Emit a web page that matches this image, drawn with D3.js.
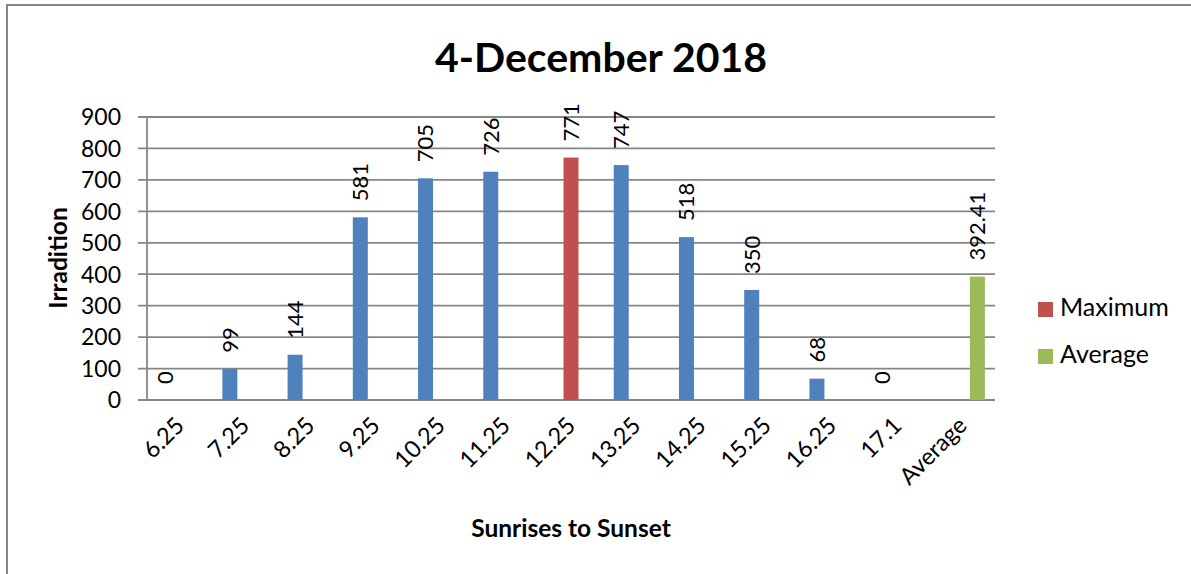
<!DOCTYPE html>
<html>
<head>
<meta charset="utf-8">
<script src="https://cdn.jsdelivr.net/npm/d3@7/dist/d3.min.js"></script>
<style>
  html, body { margin: 0; padding: 0; background: #fff; }
  svg { display: block; font-family: Lato, "Open Sans", sans-serif; }
</style>
</head>
<body>
<svg id="chart" width="1191" height="574"></svg>
<script>
// Hourly irradiation readings, sunrise to sunset
const categories = ["6.25", "7.25", "8.25", "9.25", "10.25", "11.25", "12.25", "13.25", "14.25", "15.25", "16.25", "17.1", "Average"];
const irradiation = [0, 99, 144, 581, 705, 726, null, 747, 518, 350, 68, 0, null];
const maximum = [null, null, null, null, null, null, 771, null, null, null, null, null, null];
const average = [null, null, null, null, null, null, null, null, null, null, null, null, 392.41];
const seriesNames = ["Irradiation", "Maximum", "Average"];
const seriesColors = ["#4F81BD", "#C0504D", "#9BBB59"];
const yTicks = [0, 100, 200, 300, 400, 500, 600, 700, 800, 900];
const legendItems = ["Maximum", "Average"];

const svg = d3.select("#chart");
const plot = { left: 147, right: 995, top: 117, bottom: 400 };
const grid = "#868686";

// outer frame
svg.append("rect")
  .attr("x", 7).attr("y", 5).attr("width", 1200).attr("height", 600)
  .attr("fill", "#fff").attr("stroke", grid).attr("stroke-width", 2);

const y = d3.scaleLinear().domain([0, 900]).range([plot.bottom, plot.top]);
const x0 = d3.scaleBand().domain(categories).range([plot.left, plot.right]).padding(0);
const x1 = d3.scaleBand().domain(seriesNames).range([0, x0.bandwidth()]).paddingInner(0).paddingOuter(0.675);

// gridlines
svg.append("g").selectAll("line").data(yTicks).join("line")
  .attr("x1", plot.left - 9).attr("x2", plot.right)
  .attr("y1", d => y(d)).attr("y2", d => y(d))
  .attr("stroke", grid).attr("stroke-width", 1.8);

// y axis line
svg.append("line")
  .attr("x1", plot.left).attr("x2", plot.left)
  .attr("y1", plot.top).attr("y2", plot.bottom)
  .attr("stroke", grid).attr("stroke-width", 1.8);

// y tick labels
svg.append("g").selectAll("text").data(yTicks).join("text")
  .attr("x", 121).attr("y", d => y(d))
  .attr("dy", "0.36em")
  .attr("text-anchor", "end")
  .attr("font-size", 23)
  .attr("fill", "#000")
  .text(d => d);

// bars and value labels
const seriesData = [irradiation, maximum, average];
seriesData.forEach((vals, si) => {
  const name = seriesNames[si];
  const pts = categories.map((c, i) => ({ c, v: vals[i] })).filter(d => d.v !== null);
  svg.append("g").selectAll("rect").data(pts).join("rect")
    .attr("x", d => x0(d.c) + x1(name))
    .attr("width", x1.bandwidth())
    .attr("y", d => y(d.v))
    .attr("height", d => y(0) - y(d.v))
    .attr("fill", seriesColors[si]);
  svg.append("g").selectAll("text").data(pts).join("text")
    .attr("transform", d => {
      const cx = x0(d.c) + x1(name) + x1.bandwidth() / 2;
      return `translate(${cx},${y(d.v) - 16}) rotate(-90)`;
    })
    .attr("dy", "0.36em")
    .attr("text-anchor", "start")
    .attr("font-size", 22)
    .attr("fill", "#000")
    .text(d => d.v);
});

// x axis category labels
svg.append("g").selectAll("text").data(categories).join("text")
  .attr("transform", d => `translate(${x0(d) + x0.bandwidth() / 2 + 6},${427}) rotate(-45)`)
  .attr("text-anchor", "end")
  .attr("font-size", 23.5)
  .attr("fill", "#000")
  .text(d => d);

// title
svg.append("text")
  .attr("x", 601).attr("y", 72)
  .attr("text-anchor", "middle")
  .attr("font-size", 41).attr("font-weight", "bold")
  .text("4-December 2018");

// axis titles
svg.append("text")
  .attr("x", 571).attr("y", 537)
  .attr("text-anchor", "middle")
  .attr("font-size", 24.5).attr("font-weight", "bold")
  .text("Sunrises to Sunset");

svg.append("text")
  .attr("transform", "translate(67,258) rotate(-90)")
  .attr("text-anchor", "middle")
  .attr("font-size", 24.5).attr("font-weight", "bold")
  .text("Irradition");

// legend
const legend = svg.append("g").selectAll("g").data(legendItems).join("g")
  .attr("transform", (d, i) => `translate(1038,${302 + i * 47})`);
legend.append("rect")
  .attr("width", 15).attr("height", 15)
  .attr("fill", (d, i) => seriesColors[i + 1]);
legend.append("text")
  .attr("x", 22).attr("y", 14)
  .attr("font-size", 25)
  .text(d => d);
</script>
</body>
</html>
